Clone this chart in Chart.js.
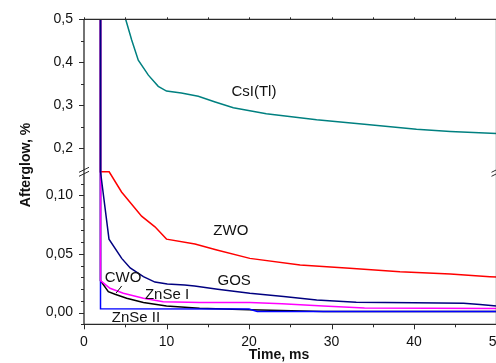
<!DOCTYPE html>
<html>
<head>
<meta charset="utf-8">
<script src="https://cdn.jsdelivr.net/npm/chart.js@4.4.1/dist/chart.umd.min.js"></script>
<style>
  html, body { margin: 0; padding: 0; background: #fff; overflow: hidden; width: 496px; height: 363px; }
  #wrap { position: absolute; left: 0; top: 0; width: 520px; height: 363px; }
</style>
</head>
<body>
<div id="wrap"><canvas id="c" width="520" height="363"></canvas></div>
<script>
// Afterglow decay of scintillators after the excitation is switched off (t = 2 ms)
const csiT = [4.6, 5.05, 5.78, 6.58, 7.8, 9.0, 10.0, 11.8, 13.85, 15.9, 18.1, 22.1, 28.2, 34.3, 40.3, 44.4, 50];
const csiY = [0.56, 0.5, 0.452, 0.405, 0.370, 0.344, 0.333, 0.3285, 0.321, 0.3075, 0.294, 0.280, 0.266, 0.255, 0.244, 0.239, 0.234];

const zwoT = [2, 2, 3.05, 4.55, 6.98, 8.6, 10.0, 13.45, 16.1, 20.1, 26.2, 32.2, 38.3, 44.4, 49.2, 50];
const zwoY = [2.0, 0.13, 0.13, 0.1028, 0.0822, 0.0731, 0.0626, 0.0584, 0.0533, 0.0462, 0.0405, 0.0377, 0.0348, 0.0329, 0.0306, 0.0303];

const gosT = [2, 2, 3.03, 4.57, 5.6, 7.2, 8.6, 10.1, 12.2, 13.4, 16.2, 20.1, 24.2, 28.2, 33, 40, 46, 48, 50];
const gosY = [2.0, 0.125, 0.0626, 0.0462, 0.038, 0.0306, 0.026, 0.0244, 0.0235, 0.0227, 0.0199, 0.0165, 0.0136, 0.0108, 0.0088, 0.0083, 0.0080, 0.0068, 0.0057];

const znse1T = [2, 2, 3.15, 4.77, 7.2, 9.6, 14.06, 20.1, 24, 29, 34, 50];
const znse1Y = [2.0, 0.0272, 0.0207, 0.0165, 0.0122, 0.0093, 0.0085, 0.0085, 0.0075, 0.0055, 0.0038, 0.0035];

const cwoT = [2, 2, 2.95, 3.76, 5.17, 7.2, 10.0, 14.0, 20.0, 29.0, 50];
const cwoY = [2.0, 0.0272, 0.0178, 0.0156, 0.0122, 0.0085, 0.0057, 0.0037, 0.0025, 0.0010, 0.0009];

const znse2T = [2, 2, 20, 21, 50];
const znse2Y = [2.0, 0.0032, 0.0030, 0.0009, 0.0009];

const seriesNames = ['CsI(Tl)', 'ZWO', 'GOS', 'CWO', 'ZnSe I', 'ZnSe II'];

// Tick values of the split y axis and of the time axis
const yMajorTicks = [0, 0.05, 0.10, 0.2, 0.3, 0.4, 0.5];
const yMinorTicks = [-0.01, 0.01, 0.02, 0.03, 0.04, 0.06, 0.07, 0.08, 0.09, 0.11, 0.25, 0.35, 0.45];
const xMajorTicks = [0, 10, 20, 30, 40, 50];
const xMinorTicks = [5, 15, 25, 35, 45];

// Lower panel: -0.01 .. 0.12, upper panel: 0.145 .. 0.5, each takes half the height
const Y_MIN = -0.01, BREAK_LOW = 0.12, BREAK_HIGH = 0.145, Y_MAX = 0.5;

class BrokenLinearScale extends Chart.LinearScale {
  buildTicks() {
    return yMajorTicks.map(v => ({ value: v }));
  }
  getPixelForValue(v) {
    if (v === null || v === undefined || isNaN(v)) return NaN;
    const mid = (this.top + this.bottom) / 2;
    if (v <= BREAK_LOW) {
      return this.bottom - (v - Y_MIN) / (BREAK_LOW - Y_MIN) * (this.bottom - mid);
    }
    if (v >= BREAK_HIGH) {
      return mid - (v - BREAK_HIGH) / (Y_MAX - BREAK_HIGH) * (mid - this.top);
    }
    return mid;
  }
  getValueForPixel(p) {
    const mid = (this.top + this.bottom) / 2;
    if (p >= mid) return Y_MIN + (this.bottom - p) / (this.bottom - mid) * (BREAK_LOW - Y_MIN);
    return BREAK_HIGH + (mid - p) / (mid - this.top) * (Y_MAX - BREAK_HIGH);
  }
}
BrokenLinearScale.id = 'brokenLinear';
Chart.register(BrokenLinearScale);

const FONT = "'Liberation Sans', Arial, sans-serif";

function pts(t, y) { return t.map((x, i) => ({ x: x, y: y[i] })); }
function series(label, t, y, color) {
  return { label, data: pts(t, y), borderColor: color, borderWidth: 1.5, pointRadius: 0, tension: 0, fill: false };
}

// Text labels placed next to their curves (data coordinates)
const curveLabels = [
  { text: 'CsI(Tl)', x: 20.6, y: 0.330 },
  { text: 'ZWO', x: 17.8, y: 0.0694 },
  { text: 'GOS', x: 18.2, y: 0.0269 },
  { text: 'CWO', x: 4.73, y: 0.0295 },
  { text: 'ZnSe I', x: 10.06, y: 0.0150 },
  { text: 'ZnSe II', x: 6.3, y: -0.0041 }
];
const cwoLeader = [{ x: 4.57, y: 0.0227 }, { x: 3.88, y: 0.0165 }];

const framePlugin = {
  id: 'frame',
  afterDraw(chart) {
    const ctx = chart.ctx;
    const xs = chart.scales.x, ys = chart.scales.y;
    const a = chart.chartArea;
    ctx.save();
    ctx.strokeStyle = '#2a2a2a';
    ctx.lineWidth = 1.3;
    // frame
    ctx.beginPath();
    ctx.moveTo(a.left, a.top); ctx.lineTo(a.left, a.bottom);
    ctx.moveTo(a.left, a.bottom); ctx.lineTo(a.right, a.bottom);
    ctx.moveTo(a.left, a.top); ctx.lineTo(a.right, a.top);
    ctx.moveTo(a.right, a.top); ctx.lineTo(a.right, a.bottom);
    ctx.stroke();
    // ticks
    ctx.lineWidth = 1;
    ctx.beginPath();
    yMajorTicks.forEach(v => { const p = Math.round(ys.getPixelForValue(v)) + 0.5; ctx.moveTo(a.left - 5, p); ctx.lineTo(a.left, p); });
    yMinorTicks.forEach(v => { const p = Math.round(ys.getPixelForValue(v)) + 0.5; ctx.moveTo(a.left - 3, p); ctx.lineTo(a.left, p); });
    xMajorTicks.forEach(v => { const p = Math.round(xs.getPixelForValue(v)) + 0.5; ctx.moveTo(p, a.bottom); ctx.lineTo(p, a.bottom + 5); });
    xMinorTicks.forEach(v => { const p = Math.round(xs.getPixelForValue(v)) + 0.5; ctx.moveTo(p, a.bottom); ctx.lineTo(p, a.bottom + 3); });
    xMajorTicks.concat(xMinorTicks).forEach(v => { const p = Math.round(xs.getPixelForValue(v)) + 0.5; ctx.moveTo(p, a.top); ctx.lineTo(p, a.top - 2); });
    ctx.stroke();
    // axis break marks
    const mid = (a.top + a.bottom) / 2;
    [a.left, a.right].forEach(cx => {
      ctx.beginPath();
      [-2, 2].forEach(dy => {
        ctx.moveTo(cx - 5, mid + dy + 2.5);
        ctx.lineTo(cx + 5, mid + dy - 2.5);
      });
      ctx.stroke();
    });
    // curve labels
    ctx.fillStyle = '#111';
    ctx.font = '15px ' + FONT;
    ctx.textAlign = 'center';
    ctx.textBaseline = 'middle';
    curveLabels.forEach(l => ctx.fillText(l.text, xs.getPixelForValue(l.x), ys.getPixelForValue(l.y)));
    ctx.beginPath();
    ctx.moveTo(xs.getPixelForValue(cwoLeader[0].x), ys.getPixelForValue(cwoLeader[0].y));
    ctx.lineTo(xs.getPixelForValue(cwoLeader[1].x), ys.getPixelForValue(cwoLeader[1].y));
    ctx.strokeStyle = '#111';
    ctx.stroke();
    // axis titles
    ctx.font = 'bold 14px ' + FONT;
    ctx.fillText('Time, ms', 279, 355.5);
    ctx.translate(26, 165);
    ctx.rotate(-Math.PI / 2);
    ctx.fillText('Afterglow, %', 0, 0);
    ctx.restore();
  }
};

new Chart(document.getElementById('c'), {
  type: 'line',
  data: {
    datasets: [
      series(seriesNames[2], gosT, gosY, '#000080'),
      series(seriesNames[4], znse1T, znse1Y, '#ff00ff'),
      series(seriesNames[5], znse2T, znse2Y, '#0000ff'),
      series(seriesNames[3], cwoT, cwoY, '#000000'),
      series(seriesNames[1], zwoT, zwoY, '#ff0000'),
      series(seriesNames[0], csiT, csiY, '#008080')
    ]
  },
  options: {
    responsive: false,
    devicePixelRatio: 1,
    animation: false,
    layout: { padding: { top: 19.3, right: 23.5, left: 0, bottom: 0 } },
    plugins: { legend: { display: false }, tooltip: { enabled: false } },
    scales: {
      x: {
        type: 'linear', min: 0, max: 50,
        grid: { display: false, drawTicks: true, tickLength: 5 },
        border: { display: false },
        ticks: { stepSize: 10, padding: 4, color: '#111', font: { family: FONT, size: 14 }, maxRotation: 0, autoSkip: false },
        afterFit(s) { s.height = 38.7; }
      },
      y: {
        type: 'brokenLinear', min: Y_MIN, max: Y_MAX,
        grid: { display: false, drawTicks: true, tickLength: 5 },
        border: { display: false },
        ticks: {
          padding: 6, color: '#111', font: { family: FONT, size: 14 }, autoSkip: false,
          callback: v => (v < 0.15 ? v.toFixed(2) : v.toFixed(1)).replace('.', ',')
        },
        afterFit(s) { s.width = 84; }
      }
    }
  },
  plugins: [framePlugin]
});
</script>
</body>
</html>
